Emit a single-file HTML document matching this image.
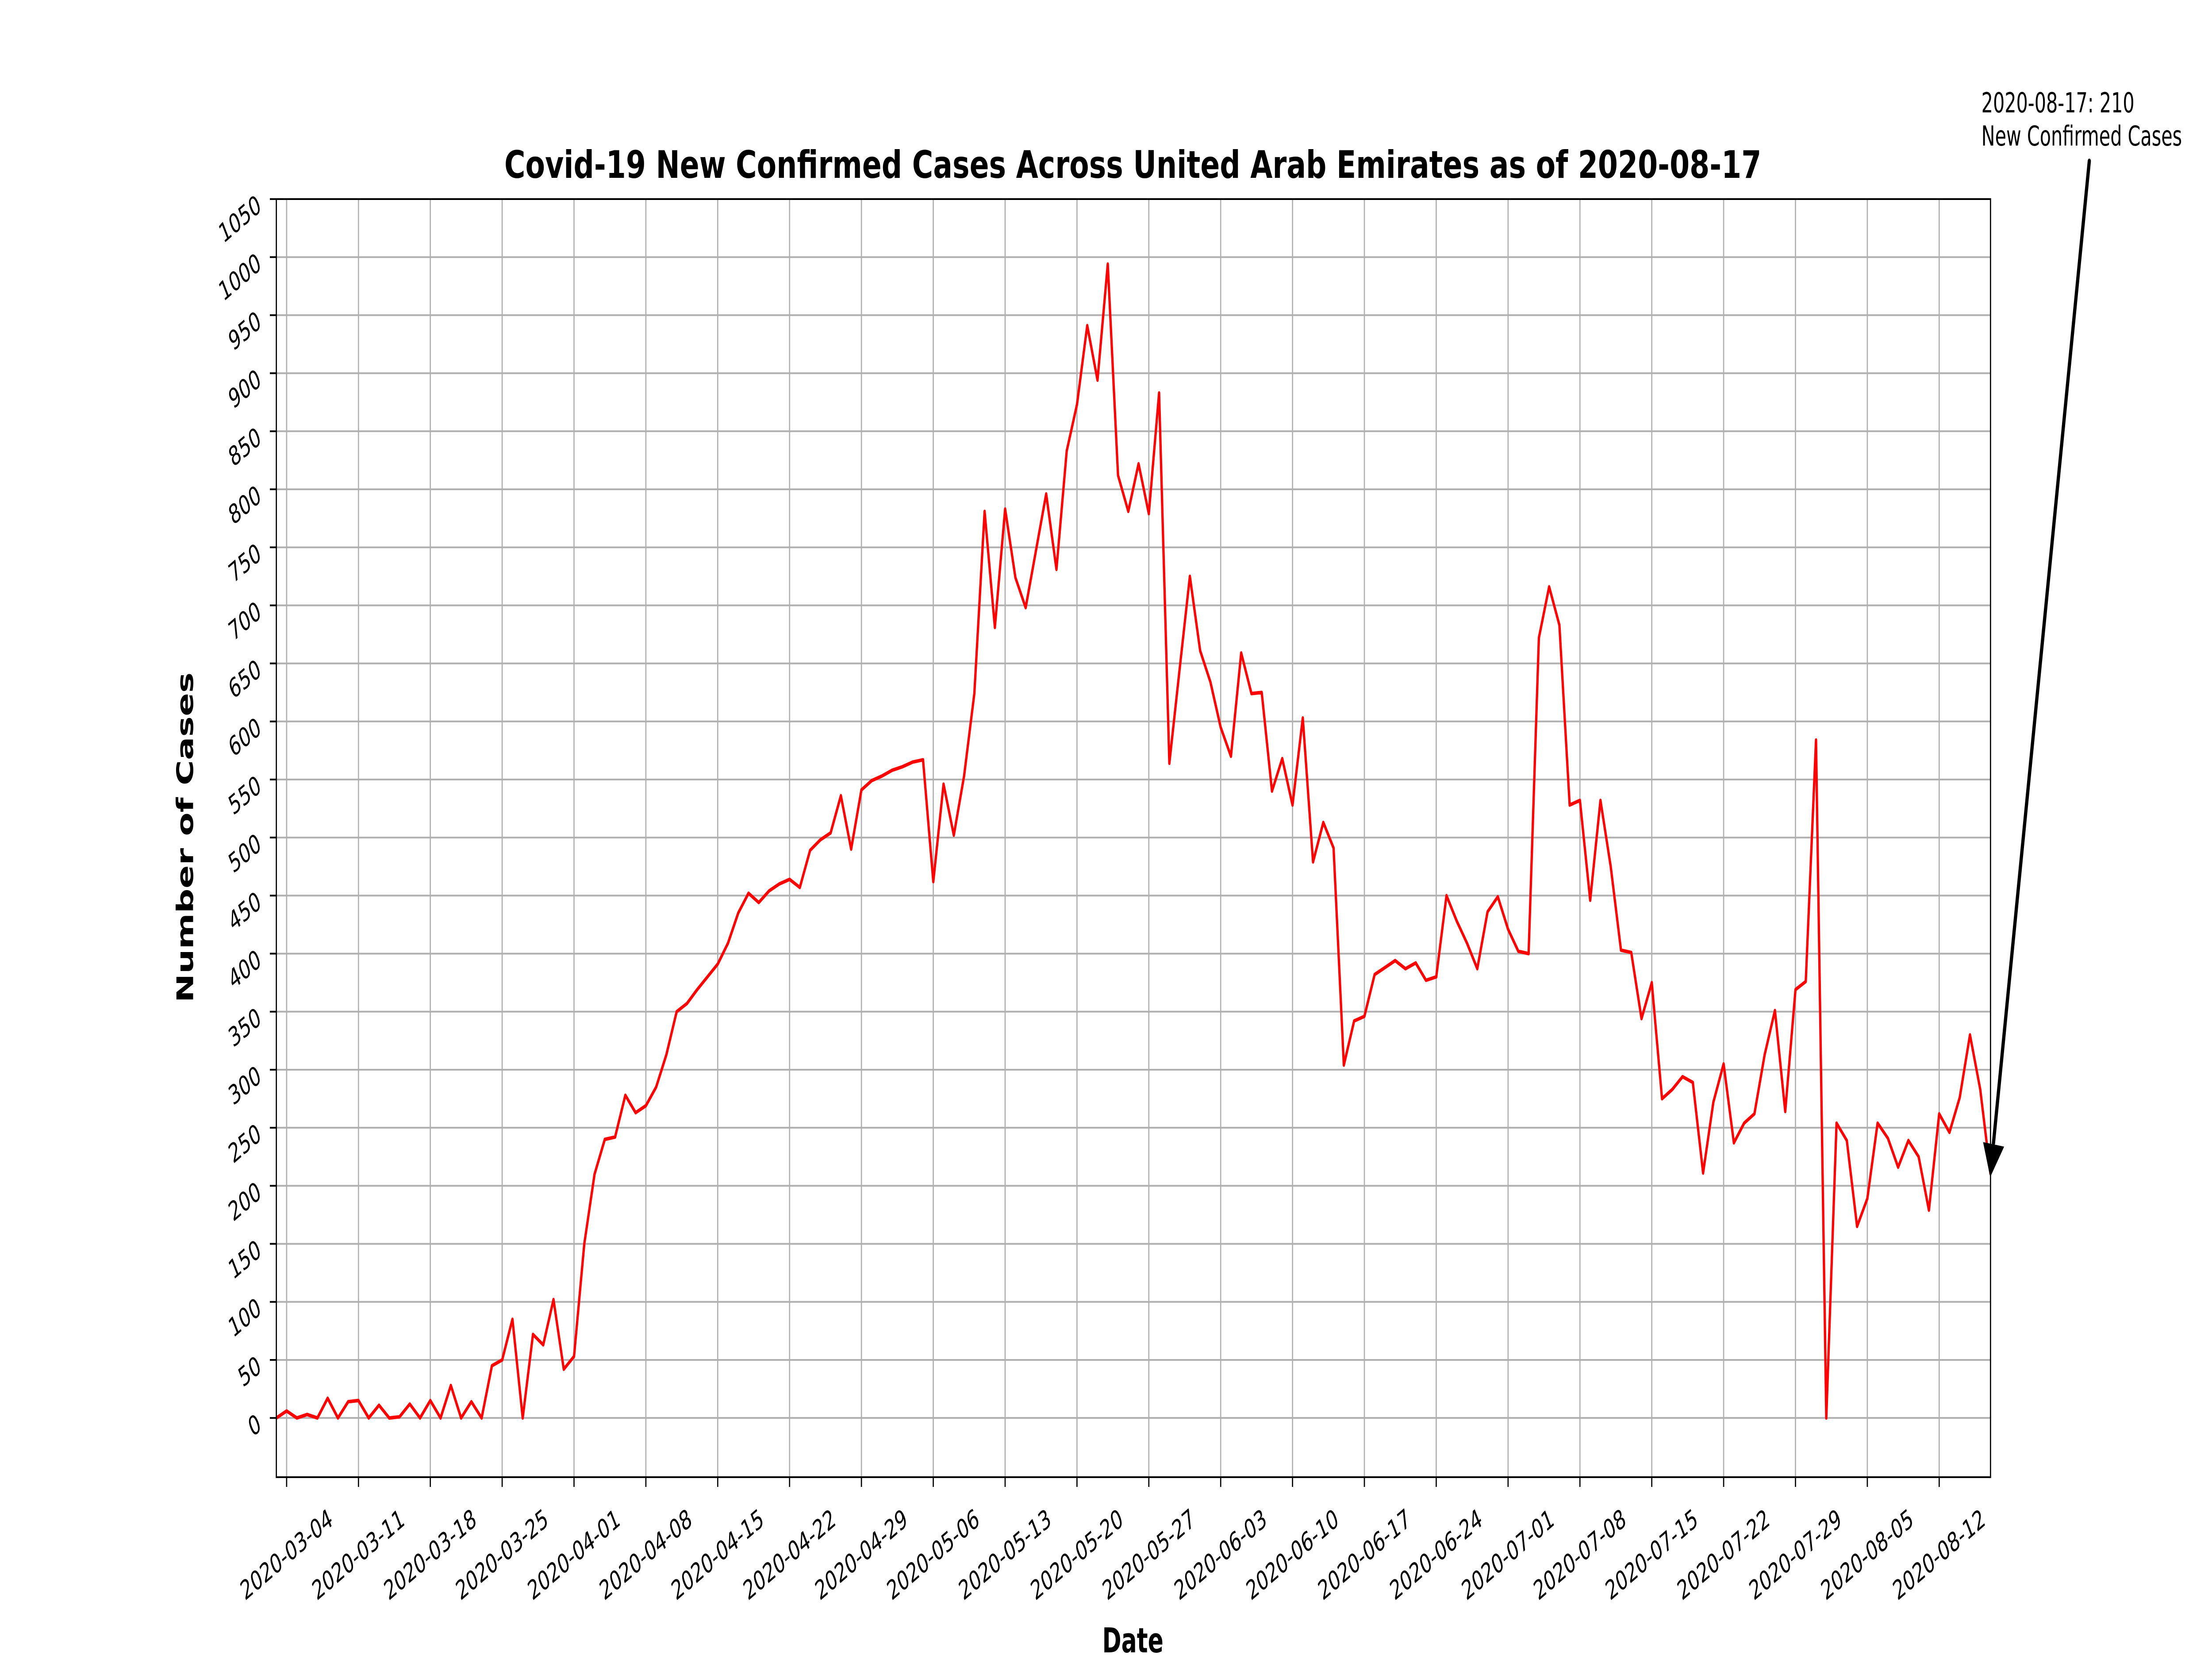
<!DOCTYPE html>
<html><head><meta charset="utf-8">
<style>
html,body{margin:0;padding:0;background:#fff;overflow:hidden;width:100vw;height:100vh;}
svg{display:block;width:100vw;height:100vh;font-family:"DejaVu Sans","Liberation Sans",sans-serif;}
</style></head>
<body>
<svg id="chart" viewBox="0 0 7500 3750" preserveAspectRatio="none" xmlns="http://www.w3.org/2000/svg">
<rect x="0" y="0" width="7500" height="3750" fill="#fff"/>
<g id="grid"></g>
<g id="series"></g>
<g id="axes"></g>
<text x="3841" y="402" text-anchor="middle" font-size="86" font-weight="bold" textLength="4262" lengthAdjust="spacingAndGlyphs">Covid-19 New Confirmed Cases Across United Arab Emirates as of 2020-08-17</text>
<text x="3841" y="3735" text-anchor="middle" font-size="78" font-weight="bold">Date</text>
<text x="0" y="0" transform="translate(655,1893) rotate(-90)" text-anchor="middle" font-size="78" font-weight="bold">Number of Cases</text>
<g>
<text x="6718" y="254" font-size="62">2020-08-17: 210</text>
<text x="6718" y="329" font-size="62">New Confirmed Cases</text>
<line id="arrowLine" x1="7084" y1="364" x2="6760" y2="2580" stroke="#000" stroke-width="11" stroke-linecap="round"/>
<polygon id="arrowHead" points="6749,2654 6728,2585 6790,2594" fill="#000" stroke="#000" stroke-width="6"/>
</g>
</svg>
<script>
const values = [0,6,0,3,0,17,0,14,15,0,11,0,1,12,0,15,0,28,0,14,0,45,50,85,0,72,63,102,42,53,150,210,240,242,278,263,269,285,313,350,357,369,380,391,409,
435,452,444,454,460,464,457,489,498,504,536,490,541,549,553,558,561,565,567,462,546,502,553,624,781,681,783,724,698,747,796,731,833,873,941,894,994,812,781,822,779,883,564,645,
725,661,634,595,570,659,624,625,540,568,528,603,479,513,491,304,342,346,382,388,394,387,392,377,380,450,428,409,387,436,449,421,402,400,672,716,683,528,532,
446,532,475,403,401,344,375,275,283,294,289,211,272,305,237,254,262,313,351,264,369,376,584,0,254,239,165,189,254,241,216,239,225,179,262,246,276,330,283,210];
const xTickLabels = ["2020-03-04","2020-03-11","2020-03-18","2020-03-25","2020-04-01","2020-04-08","2020-04-15","2020-04-22","2020-04-29","2020-05-06","2020-05-13","2020-05-20","2020-05-27","2020-06-03","2020-06-10","2020-06-17","2020-06-24","2020-07-01","2020-07-08","2020-07-15","2020-07-22","2020-07-29","2020-08-05","2020-08-12"];
const xTickDays = [1,8,15,22,29,36,43,50,57,64,71,78,85,92,99,106,113,120,127,134,141,148,155,162];
const yTicks = [0,50,100,150,200,250,300,350,400,450,500,550,600,650,700,750,800,850,900,950,1000,1050];

const L=937, R=6749, T=450, B=3339;
const xMin=0, xMax=167, yMin=-51, yMax=1050;
const NS="http://www.w3.org/2000/svg";
function xs(d){return L+(d-xMin)/(xMax-xMin)*(R-L);}
function ys(v){return B-(v-yMin)/(yMax-yMin)*(B-T);}
function mk(tag,attrs,parent){const e=document.createElementNS(NS,tag);for(const k in attrs)e.setAttribute(k,attrs[k]);parent.appendChild(e);return e;}
const grid=document.getElementById('grid'), axes=document.getElementById('axes'), series=document.getElementById('series');

xTickDays.forEach((d,i)=>{
  const x=xs(d);
  const g=mk('line',{x1:x,y1:T,x2:x,y2:B,stroke:'#b0b0b0','stroke-width':4},grid);
  
  
  const t=mk('line',{x1:x,y1:B,x2:x,y2:B+22,stroke:'#000','stroke-width':4},axes);
  
  
  const lb=mk('text',{x:0,y:0,transform:`translate(${x},3515) rotate(-30)`,'text-anchor':'middle','dominant-baseline':'central','font-size':60},axes);
  lb.textContent=xTickLabels[i];
  
  
});
yTicks.forEach(v=>{
  const y=ys(v);
  const g=mk('line',{x1:L,y1:y,x2:R,y2:y,stroke:'#b0b0b0','stroke-width':4},grid);
  
  
  const t=mk('line',{x1:L-22,y1:y,x2:L,y2:y,stroke:'#000','stroke-width':4},axes);
  
  
  const lb=mk('text',{x:0,y:0,transform:`translate(880,${y+8}) rotate(-30)`,'text-anchor':'end','dominant-baseline':'central','font-size':60},axes);
  lb.textContent=String(v);
  
  
});
const frame=mk('rect',{x:L,y:T,width:R-L,height:B-T,fill:'none',stroke:'#000','stroke-width':4},axes);



const pts=values.map((v,i)=>xs(i).toFixed(1)+','+ys(v).toFixed(1)).join(' ');
const line=mk('polyline',{points:pts,fill:'none',stroke:'#ff0000','stroke-width':8,'stroke-linejoin':'round'},series);



const lastX=xs(values.length-1), lastY=ys(values[values.length-1]);
const al=document.getElementById('arrowLine');
al.setAttribute('x2',lastX+10); al.setAttribute('y2',lastY-70);
document.getElementById('arrowHead').setAttribute('points',`${lastX},${lastY} ${lastX-21},${lastY-69} ${lastX+41},${lastY-60}`);
</script>
</body></html>
